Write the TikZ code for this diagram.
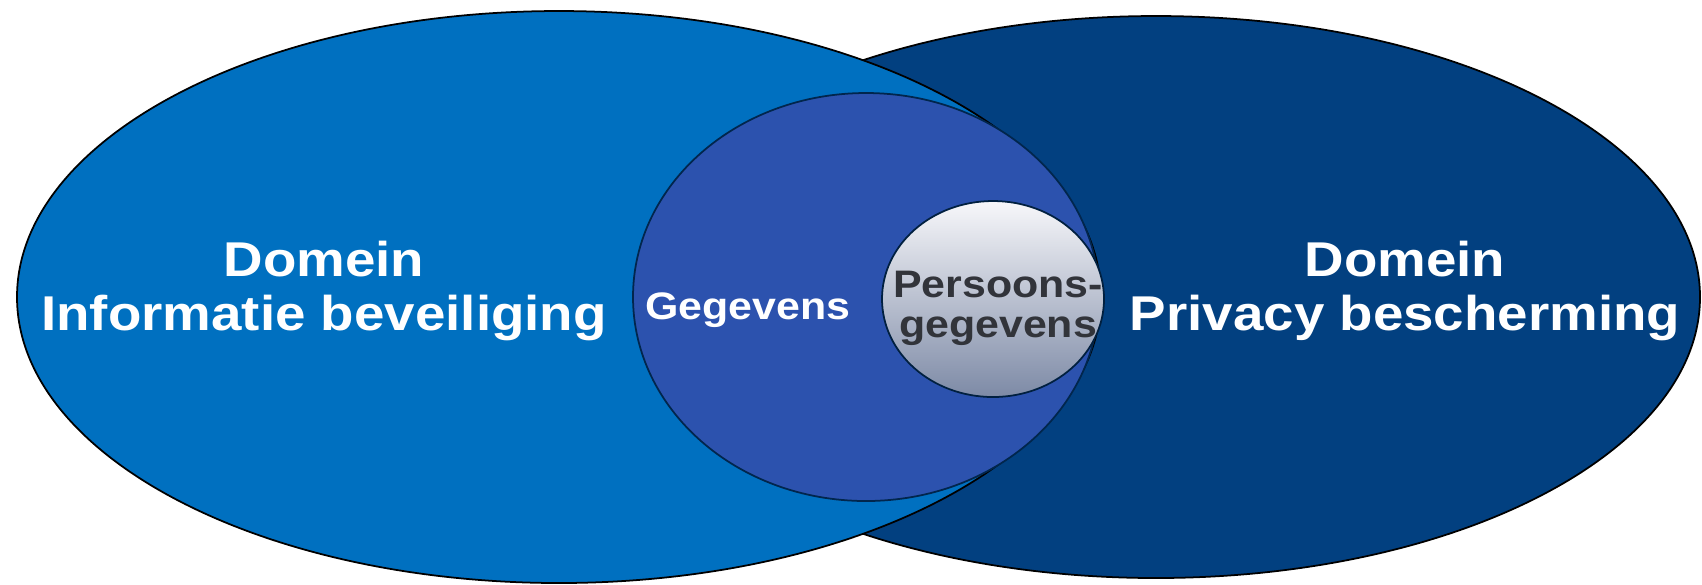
\documentclass[tikz,border=0pt]{standalone}
\usepackage{fontspec}
\setmainfont{Liberation Sans}
\newfontfamily\vennfont[FakeStretch=1.12]{Liberation Sans}
\usetikzlibrary{shapes.geometric}
\definecolor{infoblue}{RGB}{0,112,192}
\definecolor{privblue}{RGB}{2,64,128}
\definecolor{datablue}{RGB}{44,82,174}
\definecolor{persgray}{RGB}{125,138,166}
\definecolor{perswhite}{RGB}{247,247,250}
\definecolor{textgray}{RGB}{50,52,58}

\begin{document}
\begin{tikzpicture}[x=0.1mm, y=-0.1mm,
    vennset/.style={ellipse, draw=black, line width=0.5pt, inner sep=0pt},
    biglabel/.style={text=white, align=center, inner sep=0pt,
        font=\vennfont\bfseries\fontsize{13.9}{15.4}\selectfont},
    smalllabel/.style={align=center, inner sep=0pt,
        font=\vennfont\bfseries\fontsize{10.9}{11.4}\selectfont}]
   \useasboundingbox (0,0) rectangle (1702,584);
   % the two domains, the left one on top
   \node (privacy)[vennset, fill=privblue, minimum width=108.8mm, minimum height=56.2mm] at (1156,297) {};
   \node (info)[vennset, fill=infoblue, minimum width=108.4mm, minimum height=57.2mm] at (559,297) {};
   % data and personal data
   \node (data)[vennset, fill=datablue, draw=privblue!60!black, minimum width=46.6mm, minimum height=40.8mm] at (866,297) {};
   \node (pers)[vennset, top color=perswhite, bottom color=persgray, draw=privblue!50!black,
         minimum width=22.2mm, minimum height=19.6mm] at (993,299) {};

   \node (infotext)[biglabel] at (324,291) {Domein\\Informatie beveiliging};
   \node (privtext)[biglabel] at (1405,291) {Domein\\Privacy bescherming};
   \node (datatext)[smalllabel, text=white, anchor=base] at (748,319) {Gegevens};
   \node (perstext)[smalllabel, text=textgray] at (998,308) {Persoons-\\gegevens};
\end{tikzpicture}
\end{document}
